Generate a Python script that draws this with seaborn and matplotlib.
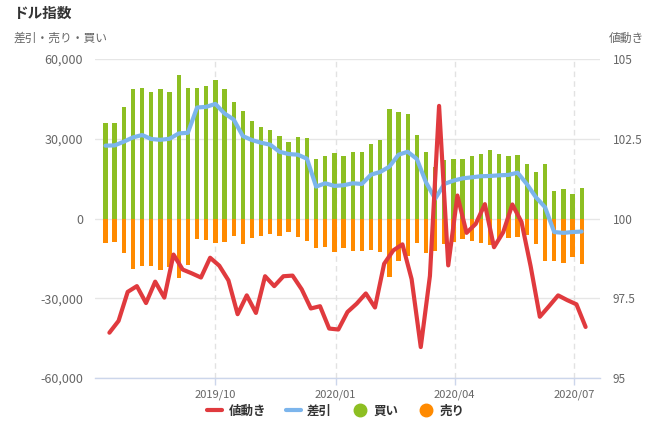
import numpy as np
import pandas as pd
import matplotlib
matplotlib.use("Agg")
import matplotlib.pyplot as plt
import matplotlib.dates as mdates
from matplotlib.lines import Line2D
import seaborn as sns

# ---- data (weekly, Tuesdays; price on Fridays) ----
start_date = "2019-07-09"
n_weeks = 53
buy = [36100, 36100, 42000, 48750, 49100, 47600, 48750, 47600, 54000, 49100,
       49100, 49900, 52100, 48750, 43900, 40500, 36750, 34500, 33400, 31100,
       28900, 30750, 30400, 22500, 23600, 24750, 23600, 25100, 25100, 28100,
       29600, 41250, 40100, 39400, 31500, 25100, 19200, 22100, 22500, 22500,
       23600, 24400, 25900, 24400, 23600, 24000, 20600, 17600, 20600, 10500,
       11250, 9400, 11600]
sell = [-9250, -8900, -12900, -19000, -17900, -17900, -19400, -18250, -22400, -17500,
        -7750, -8100, -9250, -8900, -6600, -9600, -7400, -6600, -5900, -6600,
        -5100, -7000, -8500, -11100, -10750, -12600, -11100, -12250, -12250, -11900,
        -12600, -22000, -16000, -14100, -9250, -13000, -12250, -9600, -8900, -7750,
        -8500, -9250, -10000, -7750, -7400, -7000, -6250, -9600, -16000, -16000,
        -16750, -14500, -17100]
net = [27400, 27500, 28900, 30500, 31400, 29900, 29600, 30000, 32000, 32250,
       41750, 42000, 43100, 39500, 37250, 31000, 29500, 28500, 27750, 25100,
       24250, 24000, 22500, 12000, 13250, 12250, 12500, 13250, 13000, 16500,
       17500, 19500, 24000, 25100, 22400, 13600, 7400, 13000, 14250, 15100,
       15500, 15900, 16000, 16250, 16400, 17250, 13000, 8000, 4250, -5100,
       -5400, -5100, -4900]
price = [96.42, 96.79, 97.70, 97.88, 97.35, 98.02, 97.52, 98.87, 98.40, 98.28,
         98.15, 98.77, 98.52, 98.06, 97.00, 97.59, 97.04, 98.19, 97.88, 98.19,
         98.21, 97.78, 97.18, 97.25, 96.55, 96.52, 97.07, 97.33, 97.65, 97.21,
         98.58, 99.00, 99.19, 98.10, 95.97, 98.20, 103.53, 98.53, 100.72, 99.55,
         99.83, 100.45, 99.10, 99.57, 100.44, 99.89, 98.50, 96.92, 97.25, 97.59,
         97.44, 97.31, 96.60]
month_ticks = ["2019-10-01", "2020-01-01", "2020-04-01", "2020-07-01"]
month_labels = ["2019/10", "2020/01", "2020/04", "2020/07"]
left_ticks = [-60000, -30000, 0, 30000, 60000]
right_ticks = [95, 97.5, 100, 102.5, 105]
right_labels = ["95", "97.5", "100", "102.5", "105"]

GREEN = "#8dbf22"
ORANGE = "#ff8a00"
BLUE = "#7cb5ec"
RED = "#e03a3e"
GRID = "#e6e6e6"
TXT = "#666666"

sns.set_theme(style="white")
plt.rcParams["font.family"] = ["Noto Sans CJK JP", "DejaVu Sans"]

weeks = pd.date_range(start_date, periods=n_weeks, freq="7D")
xb = mdates.date2num(weeks)
xp = xb + 3.0  # Fridays
df = pd.DataFrame({"x": xb, "buy": buy, "sell": sell, "net": net})
dp = pd.DataFrame({"x": xp, "price": price})

fig = plt.figure(figsize=(6.5, 4.33), dpi=100)
ax = fig.add_axes([95 / 650, 55 / 433, 505 / 650, 319 / 433])

sns.barplot(data=df, x="x", y="buy", native_scale=True, color=GREEN, width=0.47,
            saturation=1, errorbar=None, ax=ax, zorder=2, linewidth=0)
sns.barplot(data=df, x="x", y="sell", native_scale=True, color=ORANGE, width=0.47,
            saturation=1, errorbar=None, ax=ax, zorder=2, linewidth=0)
sns.lineplot(data=df, x="x", y="net", color=BLUE, linewidth=3, ax=ax, zorder=3,
             solid_joinstyle="round", solid_capstyle="round")

ax2 = ax.twinx()
sns.lineplot(data=dp, x="x", y="price", color=RED, linewidth=3, ax=ax2, zorder=3,
             solid_joinstyle="round", solid_capstyle="round")

x0 = mdates.date2num(pd.Timestamp("2019-07-01"))
x1 = mdates.date2num(pd.Timestamp("2020-07-21"))
ax.set_xlim(x0, x1)
ax2.set_xlim(x0, x1)
ax.set_ylim(-60000, 60000)
ax2.set_ylim(95, 105)

ax.set_yticks(left_ticks)
ax.set_yticklabels([f"{v:,}" for v in left_ticks])
ax2.set_yticks(right_ticks)
ax2.set_yticklabels(right_labels)
mt = mdates.date2num(pd.to_datetime(month_ticks))
ax.set_xticks(mt)
ax.set_xticklabels(month_labels)
ax.set_xlabel("")
ax.set_ylabel("")
ax2.set_ylabel("")

ax.yaxis.grid(True, color=GRID, linewidth=1)
ax.set_axisbelow(True)
for m in mt:
    ax.axvline(m, color="#e2e2e2", linewidth=1, linestyle=(0, (4, 3)), zorder=1)

for s in ["top", "left", "right"]:
    ax.spines[s].set_visible(False)
    ax2.spines[s].set_visible(False)
ax2.spines["bottom"].set_visible(False)
ax.spines["bottom"].set_color("#ccd6eb")
ax.spines["bottom"].set_linewidth(1)

ax.tick_params(axis="y", length=0, pad=8.5, labelsize=9, labelcolor=TXT)
ax2.tick_params(axis="y", length=0, pad=9, labelsize=8.5, labelcolor=TXT)
ax.tick_params(axis="x", length=5, width=1, color="#ccd6eb", pad=3,
               labelsize=8, labelcolor=TXT, bottom=True)

fig.text(13 / 650, 1 - 13 / 433, "ドル指数", fontsize=10.5, fontweight="bold",
         color="#333333", va="center", ha="left")
fig.text(14 / 650, 1 - 38 / 433, "差引・売り・買い", fontsize=8.5, color=TXT,
         va="center", ha="left")
fig.text(609 / 650, 1 - 38 / 433, "値動き", fontsize=8.5, color=TXT,
         va="center", ha="left")

handles = [
    Line2D([0], [0], color=RED, lw=3),
    Line2D([0], [0], color=BLUE, lw=3),
    Line2D([0], [0], color=GREEN, lw=0, marker="o", markersize=9),
    Line2D([0], [0], color=ORANGE, lw=0, marker="o", markersize=9),
]
fig.legend(handles, ["値動き", "差引", "買い", "売り"], loc="center",
           bbox_to_anchor=(336 / 650, 1 - 411 / 433), ncol=4, frameon=False,
           prop={"size": 9, "weight": "bold"}, labelcolor="#333333",
           handlelength=1.2, handletextpad=0.5, columnspacing=1.6)

fig.savefig("out.png", dpi=100)
